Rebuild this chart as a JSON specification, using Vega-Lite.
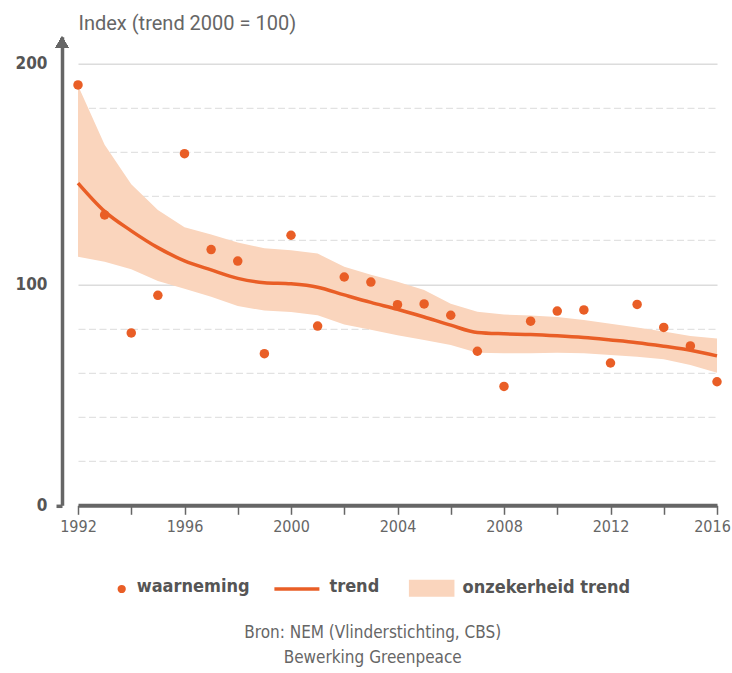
{
  "$schema": "https://vega.github.io/schema/vega-lite/v6.json",
  "width": 639,
  "height": 468.5,
  "autosize": "none",
  "padding": {"left": 78, "top": 36.8, "right": 15, "bottom": 167.7},
  "background": "#ffffff",
  "config": {"view": {"stroke": null}},
  "title": {
    "text": ["Bron: NEM (Vlinderstichting, CBS)", "Bewerking Greenpeace"],
    "orient": "bottom",
    "anchor": "middle",
    "frame": "bounds",
    "font": "DejaVu Sans Condensed, Roboto",
    "fontSize": 17,
    "fontWeight": "normal",
    "color": "#666666",
    "lineHeight": 25,
    "offset": 26
  },
  "data": {
    "values": [
      {"year": 1992, "obs": 190.2, "trend": 145.8, "lower": 112.5, "upper": 190.0},
      {"year": 1993, "obs": 131.4, "trend": 133.0, "lower": 110.2, "upper": 163.2},
      {"year": 1994, "obs": 78.0, "trend": 124.2, "lower": 106.8, "upper": 145.3},
      {"year": 1995, "obs": 95.0, "trend": 116.6, "lower": 101.5, "upper": 133.6},
      {"year": 1996, "obs": 159.1, "trend": 110.6, "lower": 98.0, "upper": 125.8},
      {"year": 1997, "obs": 115.7, "trend": 106.5, "lower": 94.4, "upper": 122.5},
      {"year": 1998, "obs": 110.5, "trend": 102.7, "lower": 90.2, "upper": 118.9},
      {"year": 1999, "obs": 68.6, "trend": 100.7, "lower": 88.1, "upper": 116.3},
      {"year": 2000, "obs": 122.2, "trend": 100.2, "lower": 87.5, "upper": 115.4},
      {"year": 2001, "obs": 81.1, "trend": 98.7, "lower": 86.0, "upper": 113.9},
      {"year": 2002, "obs": 103.3, "trend": 95.2, "lower": 81.8, "upper": 108.0},
      {"year": 2003, "obs": 101.0, "trend": 91.8, "lower": 79.4, "upper": 104.3},
      {"year": 2004, "obs": 90.8, "trend": 88.7, "lower": 77.0, "upper": 101.2},
      {"year": 2005, "obs": 91.1, "trend": 85.2, "lower": 74.8, "upper": 97.4},
      {"year": 2006, "obs": 86.0, "trend": 81.5, "lower": 72.5, "upper": 91.2},
      {"year": 2007, "obs": 69.7, "trend": 78.2, "lower": 69.0, "upper": 87.6},
      {"year": 2008, "obs": 53.8, "trend": 77.6, "lower": 68.8, "upper": 86.3},
      {"year": 2009, "obs": 83.3, "trend": 77.3, "lower": 68.8, "upper": 85.9},
      {"year": 2010, "obs": 87.9, "trend": 76.7, "lower": 69.0, "upper": 85.2},
      {"year": 2011, "obs": 88.4, "trend": 75.9, "lower": 68.8, "upper": 83.9},
      {"year": 2012, "obs": 64.4, "trend": 74.8, "lower": 68.0, "upper": 82.2},
      {"year": 2013, "obs": 90.9, "trend": 73.6, "lower": 67.2, "upper": 80.4},
      {"year": 2014, "obs": 80.5, "trend": 72.0, "lower": 66.1, "upper": 78.6},
      {"year": 2015, "obs": 72.1, "trend": 70.2, "lower": 63.5, "upper": 76.6},
      {"year": 2016, "obs": 55.9, "trend": 67.6, "lower": 60.0, "upper": 75.5}
    ]
  },
  "encoding": {
    "x": {
      "field": "year",
      "type": "quantitative",
      "scale": {"domain": [1992, 2016], "nice": false, "zero": false},
      "axis": {
        "title": null,
        "values": [1992, 1994, 1996, 1998, 2000, 2002, 2004, 2006, 2008, 2010, 2012, 2014, 2016],
        "format": "d",
        "labelExpr": "datum.value % 4 === 0 ? datum.label : ''",
        "grid": false,
        "domainColor": "#666666",
        "domainWidth": 4,
        "tickColor": "#666666",
        "tickWidth": 1.5,
        "tickSize": 9,
        "labelPadding": 4,
        "labelFont": "DejaVu Sans Condensed, Roboto",
        "labelFontSize": 16,
        "labelColor": "#666666",
        "labelOffset": {"condition": {"test": "datum.value === 2016", "value": -5}, "value": 0},
        "labelOverlap": false,
        "labelFlush": false,
        "labelBound": false
      }
    }
  },
  "layer": [
    {
      "mark": {"type": "area", "color": "#fad5bd", "opacity": 1},
      "encoding": {
        "y": {
          "field": "lower",
          "type": "quantitative",
          "scale": {"domain": [0, 212], "nice": false, "zero": true},
          "axis": {
            "orient": "left",
            "offset": 16,
            "values": [0, 10, 20, 30, 40, 50, 60, 70, 80, 90, 100, 110, 120, 130, 140, 150, 160, 170, 180, 190, 200],
            "labelExpr": "datum.value % 50 === 0 ? datum.label : ''",
            "labelFont": "DejaVu Sans Condensed, Roboto",
            "labelFontWeight": "bold",
            "labelFontSize": 17,
            "labelColor": "#555555",
            "labelPadding": 9,
            "labelBound": false,
            "domainColor": "#666666",
            "domainWidth": 3.5,
            "tickSize": 6,
            "tickWidth": 3.5,
            "tickColor": "#666666",
            "tickOpacity": {"condition": {"test": "datum.value === 0", "value": 1}, "value": 0},
            "grid": true,
            "gridColor": {"condition": {"test": "datum.value % 50 === 0", "value": "#dcdcdc"}, "value": "#e2e2e2"},
            "gridDash": {"condition": {"test": "datum.value % 50 === 0", "value": []}, "value": [7, 3.5]},
            "gridWidth": {"condition": {"test": "datum.value % 50 === 0", "value": 1.6}, "value": 1.2},
            "title": "Index (trend 2000 = 100)",
            "titleAngle": 0,
            "titleAlign": "left",
            "titleBaseline": "alphabetic",
            "titleX": 16,
            "titleY": -7,
            "titleFont": "Roboto",
            "titleFontSize": 20,
            "titleFontWeight": "normal",
            "titleColor": "#666666"
          }
        },
        "y2": {"field": "upper"},
        "color": {
          "datum": "onzekerheid trend",
          "type": "nominal",
          "scale": {"range": ["#fad5bd"]},
          "legend": {
            "orient": "none",
            "legendX": 330.6,
            "legendY": 543,
            "title": null,
            "padding": 0,
            "clipHeight": 16,
            "symbolType": "square",
            "symbolSize": 2090,
            "symbolStrokeWidth": 0,
            "symbolOpacity": 1,
            "labelFont": "DejaVu Sans Condensed, Roboto",
            "labelFontWeight": "bold",
            "labelFontSize": 18,
            "labelColor": "#555555",
            "labelOffset": 8,
            "labelBaseline": "alphabetic",
            "labelLimit": 400,
            "encode": {"labels": {"update": {"dy": {"value": 5}}}}
          }
        }
      }
    },
    {
      "mark": {"type": "line", "strokeWidth": 3.5, "interpolate": "monotone"},
      "encoding": {
        "y": {"field": "trend", "type": "quantitative", "title": "Index (trend 2000 = 100)"},
        "stroke": {
          "datum": "trend",
          "type": "nominal",
          "scale": {"range": ["#e95e26"]},
          "legend": {
            "orient": "none",
            "legendX": 194.4,
            "legendY": 542.2,
            "title": null,
            "padding": 0,
            "clipHeight": 20,
            "symbolType": "stroke",
            "symbolSize": 2025,
            "symbolStrokeWidth": 3.5,
            "labelFont": "DejaVu Sans Condensed, Roboto",
            "labelFontWeight": "bold",
            "labelFontSize": 18,
            "labelColor": "#555555",
            "labelOffset": 8,
            "labelBaseline": "alphabetic",
            "labelLimit": 400,
            "encode": {"labels": {"update": {"dy": {"value": 3}}}}
          }
        }
      }
    },
    {
      "mark": {"type": "point", "filled": true, "size": 90, "opacity": 1},
      "encoding": {
        "y": {"field": "obs", "type": "quantitative", "title": "Index (trend 2000 = 100)"},
        "fill": {
          "datum": "waarneming",
          "type": "nominal",
          "scale": {"range": ["#e95e26"]},
          "legend": {
            "orient": "none",
            "legendX": 34.7,
            "legendY": 542.2,
            "title": null,
            "padding": 0,
            "clipHeight": 20,
            "symbolType": "circle",
            "symbolSize": 68,
            "symbolStrokeWidth": 0,
            "symbolOpacity": 1,
            "labelFont": "DejaVu Sans Condensed, Roboto",
            "labelFontWeight": "bold",
            "labelFontSize": 18,
            "labelColor": "#555555",
            "labelOffset": 6,
            "labelBaseline": "alphabetic",
            "labelLimit": 400,
            "encode": {"labels": {"update": {"dy": {"value": 3}}}}
          }
        }
      }
    },
    {
      "mark": {"type": "point", "shape": "triangle-up", "filled": true, "color": "#666666", "size": 160, "opacity": 1, "xOffset": -16},
      "encoding": {
        "x": {"datum": 1992, "type": "quantitative"},
        "y": {"datum": 209.5, "type": "quantitative"}
      }
    }
  ]
}
